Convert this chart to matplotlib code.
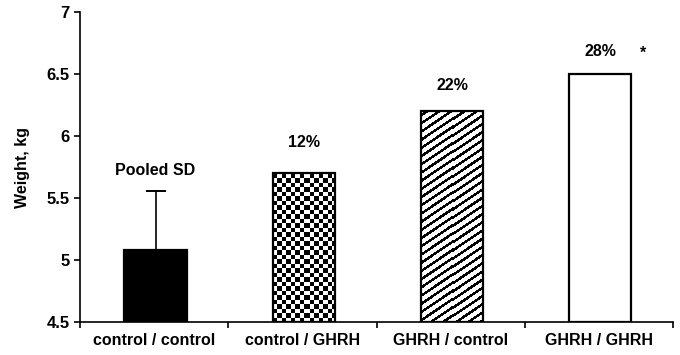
import numpy as np
import matplotlib
matplotlib.use("Agg")
import matplotlib.pyplot as plt

categories = ["control / control", "control / GHRH", "GHRH / control", "GHRH / GHRH"]
weights = [5.08, 5.70, 6.20, 6.50]
pooled_sd = 0.48
pct_labels = ["", "12%", "22%", "28%"]
yticks = [4.5, 5, 5.5, 6, 6.5, 7]
ytick_labels = ["4.5", "5", "5.5", "6", "6.5", "7"]

plt.rcParams['font.family'] = ['Liberation Sans', 'DejaVu Sans']
plt.rcParams['font.weight'] = 'bold'

W, H = 680, 355
fig = plt.figure(figsize=(W / 100, H / 100), dpi=100)
ax = fig.add_axes([80 / W, 33 / H, 593 / W, 310 / H])

x = np.arange(len(categories))
bw = 0.42
ax.set_xlim(-0.5, 3.5)
ax.set_ylim(4.5, 7)

fills = ["black", "white", "white", "white"]
bars = ax.bar(x + 0.01, [w - 4.5 for w in weights], bottom=4.5, width=bw, color=fills,
              edgecolor="black", linewidth=1.4, zorder=2)


def pattern_image(bar, kind):
    (x0, y0), (x1, y1) = ax.transData.transform([(bar.get_x(), bar.get_y()),
                                                 (bar.get_x() + bar.get_width(),
                                                  bar.get_y() + bar.get_height())])
    nx, ny = int(round(x1 - x0)), int(round(y1 - y0))
    X, Y = np.meshgrid(np.arange(nx) + 0.5, np.arange(ny) + 0.5)
    if kind == "checker":
        c = 4.5
        img = ((np.floor(X / c) + np.floor(Y / c)) % 2).astype(float)
    else:
        th = np.deg2rad(34)
        s = -X * np.sin(th) + Y * np.cos(th)
        img = ((s % 6.8) >= 2.6).astype(float)
    im = ax.imshow(img, cmap="gray", vmin=0, vmax=1, origin="lower",
                   extent=(bar.get_x(), bar.get_x() + bar.get_width(),
                           bar.get_y(), bar.get_y() + bar.get_height()),
                   aspect="auto", interpolation="nearest", zorder=2.5)
    im.set_clip_path(bar)


pattern_image(bars[1], "checker")
pattern_image(bars[2], "stripes")
ax.bar(x + 0.01, [w - 4.5 for w in weights], bottom=4.5, width=bw, fill=False,
       edgecolor="black", linewidth=1.6, zorder=3)

ax.errorbar(x[0] + 0.01, weights[0], yerr=[[0], [pooled_sd]], fmt="none", ecolor="black",
            elinewidth=1.2, capsize=7.2, capthick=1.4, zorder=1.5)

fs = 11.5
ax.text(x[0] + 0.01, weights[0] + pooled_sd + 0.165, "Pooled SD", ha="center", va="center",
        fontsize=fs, fontweight="bold")
for i in range(1, 4):
    ax.text(x[i] + 0.01, weights[i] + [0, 0.245, 0.205, 0.18][i], pct_labels[i],
            ha="center", va="center", fontsize=fs, fontweight="bold")
ax.text(x[3] + 0.3, weights[3] + 0.17, "*", ha="center", va="center",
        fontsize=fs, fontweight="bold")

for s in ["top", "right"]:
    ax.spines[s].set_visible(False)
for s in ["left", "bottom"]:
    ax.spines[s].set_linewidth(1.2)

ax.set_yticks(yticks)
ax.set_yticklabels(ytick_labels, fontsize=12, fontweight="bold")
ax.tick_params(axis="y", direction="out", length=4.5, width=1.2, pad=3)
ax.set_xticks(x)
ax.set_xticklabels(categories, fontsize=fs, fontweight="bold")
ax.tick_params(axis="x", which="major", length=0, pad=8)
ax.set_xticks(np.arange(-0.5, 4, 1), minor=True)
ax.tick_params(axis="x", which="minor", direction="out", length=4.5, width=1.2)
ax.set_ylabel("Weight, kg", fontsize=fs, fontweight="bold", labelpad=12)

fig.savefig("out.png", dpi=100)
